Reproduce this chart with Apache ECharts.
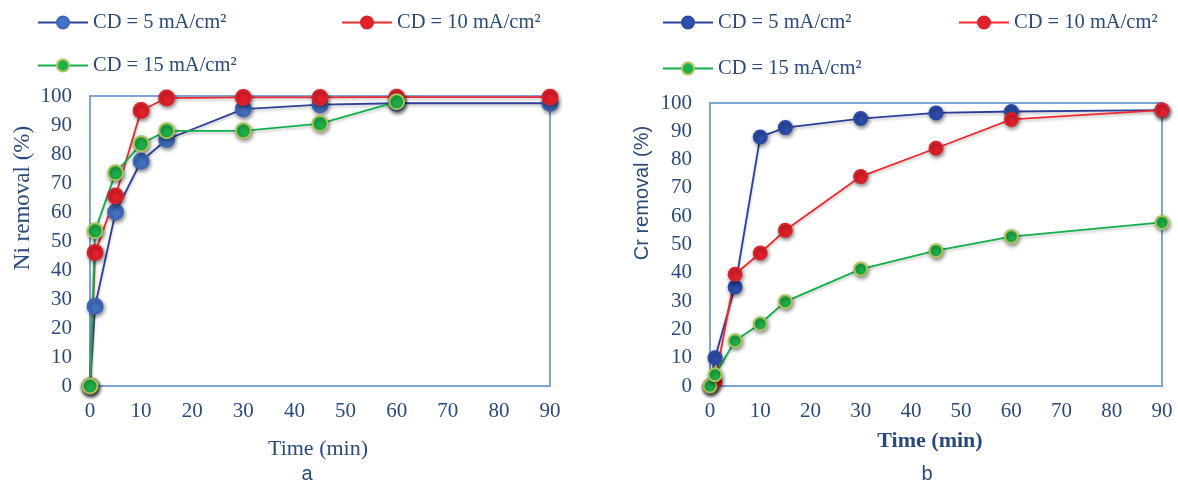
<!DOCTYPE html>
<html>
<head>
<meta charset="utf-8">
<script src="https://cdn.jsdelivr.net/npm/echarts@6/dist/echarts.min.js"></script>
<style>
html,body{margin:0;padding:0;background:#fff;}
#wrap{position:relative;width:1178px;height:487px;}
#ca{position:absolute;left:0;top:0;width:600px;height:487px;}
#cb{position:absolute;left:600px;top:0;width:578px;height:487px;}
</style>
</head>
<body>
<div id="wrap"><div id="ca"></div><div id="cb"></div></div>
<script>
// ---- data ----
const timeMin = [0, 1, 5, 10, 15, 30, 45, 60, 90];
const seriesNames = ['CD = 5 mA/cm²', 'CD = 10 mA/cm²', 'CD = 15 mA/cm²'];
const niCD5  = [0, 27.5, 60, 77.5, 85, 95.5, 97, 97.5, 97.5];
const niCD10 = [0, 46, 65.5, 95, 99.3, 99.5, 99.5, 99.6, 99.6];
const niCD15 = [0, 53.5, 73.5, 83.5, 88, 88, 90.5, 98, null];
const crCD5  = [0, 10, 35, 88, 91.3, 94.5, 96.5, 97, 97.5];
const crCD10 = [0, 1.5, 39.5, 47, 55, 74, 84, 94.2, 97.5];
const crCD15 = [0, 4, 16, 22, 29.8, 41.3, 47.8, 52.8, 57.8];
const xTicks = [0, 10, 20, 30, 40, 50, 60, 70, 80, 90];
const yTicks = [0, 10, 20, 30, 40, 50, 60, 70, 80, 90, 100];

// ---- styles ----
const TXT = '#2A4A7E';
const SERIF = '"Liberation Serif","DejaVu Serif",serif';
const SANS = '"Liberation Sans","DejaVu Sans",sans-serif';
const AXC = '#7FA5D6';

function pairs(vals){ return timeMin.map((t,i)=>[t, vals[i]]).filter(p=>p[1]!==null); }

function mkSeries(name, vals, lineC, fillC, borderC, size){
  return {
    type:'line', name, data: pairs(vals),
    symbol:'circle', symbolSize:size,
    lineStyle:{color:lineC, width:1.8, shadowBlur:3, shadowColor:'rgba(0,0,0,0.25)', shadowOffsetY:2},
    itemStyle:{color:fillC, borderColor:borderC, borderWidth:2, shadowBlur:4, shadowColor:'rgba(0,0,0,0.45)', shadowOffsetX:1, shadowOffsetY:2},
    emphasis:{disabled:true}, animation:false, z:2
  };
}

function mkLegend(name, left, top){
  return {
    data:[name], left, top, itemWidth:50, itemHeight:15, itemGap:0,
    textStyle:{fontFamily:SERIF, fontSize:20.5, color:TXT, padding:[0,0,0,0]},
    selectedMode:false
  };
}

function baseOpt(grid){
  return {
    animation:false,
    grid:Object.assign({show:true, borderColor:AXC, borderWidth:2, backgroundColor:'transparent'}, grid),
    xAxis:{type:'value', min:0, max:90, interval:10,
      axisLine:{show:true, lineStyle:{color:AXC, width:2}}, axisTick:{show:false}, splitLine:{show:false},
      axisLabel:{fontFamily:SERIF, fontSize:21, color:TXT, margin:15, formatter:v=>xTicks.includes(v)?String(v):''}},
    yAxis:{type:'value', min:0, max:100, interval:10,
      axisLine:{show:true, lineStyle:{color:AXC, width:2}}, axisTick:{show:false}, splitLine:{show:false},
      axisLabel:{fontFamily:SERIF, fontSize:21, color:TXT, margin:18, formatter:v=>yTicks.includes(v)?String(v):''}}
  };
}

// ---- chart a ----
const ca = echarts.init(document.getElementById('ca'), null, {renderer:'canvas'});
const optA = baseOpt({left:90, top:96, width:460, height:290});
optA.legend = [
  mkLegend(seriesNames[0], 32, 7),
  mkLegend(seriesNames[1], 336, 7),
  mkLegend(seriesNames[2], 32, 50)
];
optA.series = [
  mkSeries(seriesNames[0], niCD5, '#2E3F98', '#4472C4', '#3D67B8', 15),
  mkSeries(seriesNames[1], niCD10, '#EE2A2E', '#E5202B', '#D8242C', 15),
  mkSeries(seriesNames[2], niCD15, '#12B04B', '#1DB04A', '#A9C45B', 15)
];
optA.graphic = [
  {type:'text', x:23, y:198, rotation:Math.PI/2, style:{text:'Ni removal (%)', fontFamily:SERIF, fontSize:23, fill:TXT, align:'center', verticalAlign:'middle'}},
  {type:'text', x:318, y:449, style:{text:'Time (min)', fontFamily:SERIF, fontSize:22, fill:TXT, align:'center', verticalAlign:'middle'}},
  {type:'text', x:307, y:474, style:{text:'a', fontFamily:SANS, fontSize:20, fill:TXT, align:'center', verticalAlign:'middle'}}
];
ca.setOption(optA);

// ---- chart b ----
const cb = echarts.init(document.getElementById('cb'), null, {renderer:'canvas'});
const optB = baseOpt({left:110, top:103, width:452, height:283});
optB.legend = [
  mkLegend(seriesNames[0], 57, 7),
  mkLegend(seriesNames[1], 353, 7),
  mkLegend(seriesNames[2], 57, 53)
];
optB.series = [
  mkSeries(seriesNames[0], crCD5, '#2C3E9A', '#2D4FAE', '#2A4AA5', 13),
  mkSeries(seriesNames[1], crCD10, '#EE2A2E', '#E5202B', '#D8242C', 13),
  mkSeries(seriesNames[2], crCD15, '#12B04B', '#1DB04A', '#A9C45B', 13)
];
optB.graphic = [
  {type:'text', x:42, y:193, rotation:Math.PI/2, style:{text:'Cr removal (%)', fontFamily:SANS, fontSize:20, fill:TXT, align:'center', verticalAlign:'middle'}},
  {type:'text', x:330, y:441, style:{text:'Time (min)', fontFamily:SERIF, fontSize:22, fontWeight:'bold', fill:TXT, align:'center', verticalAlign:'middle'}},
  {type:'text', x:327, y:474, style:{text:'b', fontFamily:SANS, fontSize:20, fill:TXT, align:'center', verticalAlign:'middle'}}
];
cb.setOption(optB);
</script>
</body>
</html>
